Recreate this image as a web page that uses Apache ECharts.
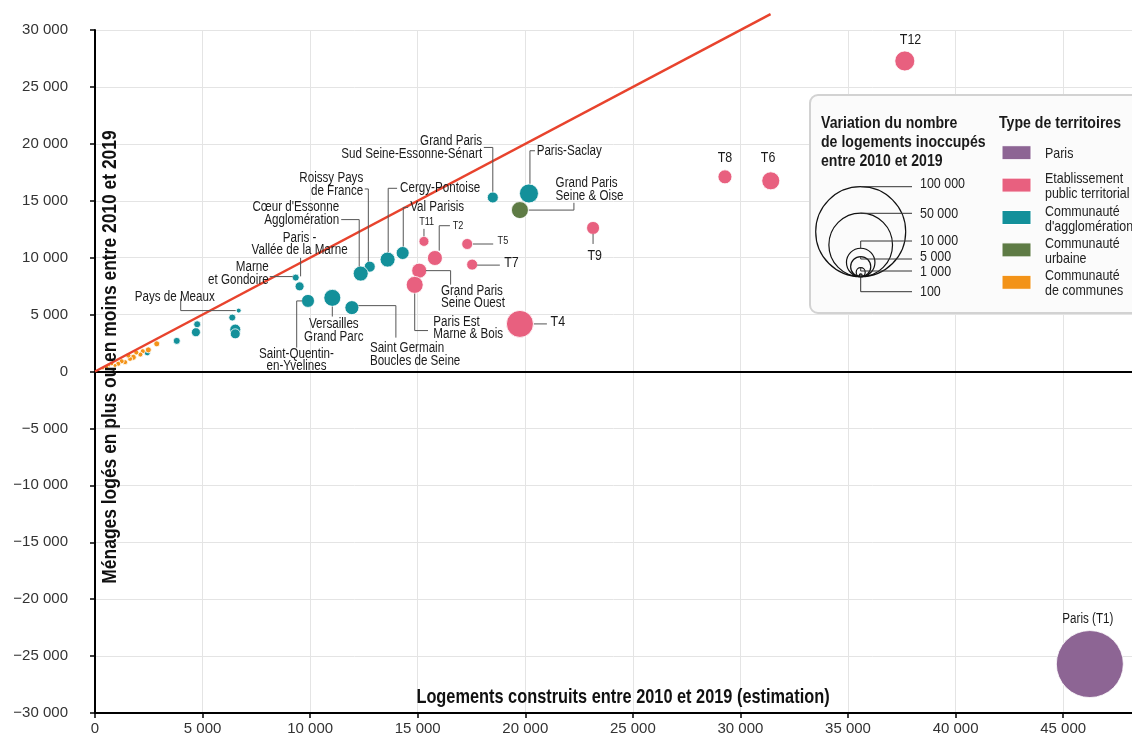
<!DOCTYPE html>
<html lang="fr">
<head>
<meta charset="utf-8">
<title>Logements construits et ménages logés 2010-2019</title>
<script src="https://cdn.jsdelivr.net/npm/echarts@6/dist/echarts.min.js"></script>
<style>
  html, body { margin: 0; padding: 0; background: #fff; }
  #chart { width: 1132px; height: 740px; }
</style>
</head>
<body>
<div id="chart"></div>
<script>
// chaque point : [logements construits, ménages logés en plus/moins, variation logements inoccupés, nom]
var paris = [
  [46240, -25700, 55400, 'Paris (T1)']
];
var ept = [
  [37640, 27280, 4940, 'T12'],
  [29280, 17100, 2420, 'T8'],
  [31410, 16750, 4000, 'T6'],
  [23150, 12610, 2090, 'T9'],
  [19750, 4180, 9000, 'T4'],
  [17300, 11200, 1490, 'T5'],
  [17530, 9390, 1490, 'T7'],
  [15800, 9970, 2780, 'T2'],
  [15290, 11430, 1230, 'T11'],
  [15070, 8860, 2780, 'Grand Paris Seine Ouest'],
  [14860, 7610, 3570, 'Paris Est Marne & Bois']
];
var agglo = [
  [20170, 15640, 4460, 'Paris-Saclay'],
  [18490, 15290, 1490, 'Grand Paris Sud Seine-Essonne-Sénart'],
  [14300, 10410, 2090, 'Val Parisis'],
  [13600, 9830, 2780, 'Cergy-Pontoise'],
  [12770, 9210, 1490, 'Roissy Pays de France'],
  [12350, 8600, 2780, "Cœur d'Essonne Agglomération"],
  [9510, 7480, 1000, 'Paris - Vallée de la Marne'],
  [9330, 8250, 600, 'Marne et Gondoire'],
  [9900, 6200, 2090, 'Saint-Quentin-en-Yvelines'],
  [11030, 6470, 3570, 'Versailles Grand Parc'],
  [11940, 5610, 2420, 'Saint Germain Boucles de Seine'],
  [6680, 5350, 300, 'Pays de Meaux'],
  [6380, 4740, 600, ''],
  [6520, 3680, 1490, ''],
  [6520, 3310, 1230, ''],
  [4750, 4150, 600, ''],
  [4690, 3450, 1000, ''],
  [3800, 2690, 600, ''],
  [2430, 1640, 440, ''],
  [1550, 1400, 250, '']
];
var urbaine = [
  [19750, 14180, 3570, 'Grand Paris Seine & Oise']
];
var communes = [
  [2870, 2430, 440],
  [2480, 1900, 440],
  [2220, 1780, 310],
  [2110, 1490, 310],
  [1920, 1670, 310],
  [1780, 1250, 440],
  [1630, 1110, 310],
  [1550, 1400, 310],
  [1400, 820, 310],
  [1240, 900, 310],
  [1080, 680, 310],
  [930, 530, 200],
  [780, 680, 200],
  [620, 530, 200],
  [540, 380, 200],
  [370, 260, 110]
];
// droite y = x
var equalLine = [[0, 0], [31400, 31400]];

var typeNames = ['Paris', 'Etablissement\npublic territorial', "Communauté\nd'agglomération", 'Communauté\nurbaine', 'Communauté\nde communes'];
var typeColors = ['#8d6594', '#e8607f', '#13909a', '#5e7b45', '#f39318'];
var sizeLegendValues = [100000, 50000, 10000, 5000, 1000, 100];
var xTitle = 'Logements construits entre 2010 et 2019 (estimation)';
var yTitle = 'Ménages logés en plus ou en moins entre 2010 et 2019';
var sizeTitle = 'Variation du nombre\nde logements inoccupés\nentre 2010 et 2019';
var typeTitle = 'Type de territoires';

var FONT = '"Liberation Sans", Arial, sans-serif';
var NARROW = 0.83; // pas de police étroite installée : on resserre horizontalement
var LEGEND_Z = 40;

// diamètre du cercle : 100 000 logements -> 90 px
function bubbleSize(v) {
  return 90 * Math.sqrt(Math.abs(v) / 100000);
}

function fmt(v) {
  var s = Math.abs(v).toString().replace(/\B(?=(\d{3})+(?!\d))/g, ' ');
  return (v < 0 ? '\u2212' : '') + s;
}

// texte condensé
function narrowText(x, y, text, size, opts) {
  opts = opts || {};
  return {
    type: 'text', x: x, y: y, scaleX: NARROW, rotation: opts.rotation || 0, z: opts.z,
    style: {
      text: text, fontFamily: FONT, fontSize: size, fontWeight: opts.bold ? 'bold' : 'normal',
      fill: opts.fill || '#1a1a1a', align: opts.align || 'left', verticalAlign: 'middle',
      lineHeight: opts.lineHeight
    }
  };
}

// étiquettes : décalages en pixels par rapport au centre du cercle
var labelPlacement = {
  'Pays de Meaux': {text: 'Pays de Meaux', dx: -64, dy: -13, align: 'center', path: [[-3, 0], [-58, 0], [-58, -12]]},
  'Marne et Gondoire': {text: 'Marne\net Gondoire', dx: -27, dy: -4, align: 'right', path: [[-26, -1], [-3, -1]]},
  'Paris - Vallée de la Marne': {text: 'Paris -\nVallée de la Marne', dx: 0, dy: -42, align: 'center', path: [[1, -28.5], [1, -10]]},
  "Cœur d'Essonne Agglomération": {text: "Cœur d'Essonne\nAgglomération", dx: -21.5, dy: -60, align: 'right', path: [[-19.5, -54], [-1.5, -54], [-1.5, -7]]},
  'Roissy Pays de France': {text: 'Roissy Pays\nde France', dx: -6.5, dy: -82, align: 'right', path: [[-5, -77.7], [-1.4, -77.7], [-1.4, -5]]},
  'Cergy-Pontoise': {text: 'Cergy-Pontoise', dx: 12.5, dy: -71.3, align: 'left', path: [[9.5, -71.3], [0.6, -71.3], [0.6, -7.5]]},
  'Val Parisis': {text: 'Val Parisis', dx: 7.5, dy: -45.6, align: 'left', path: [[5.5, -45.6], [0.6, -45.6], [0.6, -6.5]]},
  'Grand Paris Sud Seine-Essonne-Sénart': {text: 'Grand Paris\nSud Seine-Essonne-Sénart', dx: -10.7, dy: -50, align: 'right', path: [[-9, -50], [0, -50], [0, -5.7]]},
  'Paris-Saclay': {text: 'Paris-Saclay', dx: 7.7, dy: -42.7, align: 'left', path: [[6, -42.7], [1, -42.7], [1, -9.7]]},
  'Grand Paris Seine & Oise': {text: 'Grand Paris\nSeine & Oise', dx: 35.7, dy: -20.6, align: 'left', path: [[9, 0], [54, 0], [54, -7.3]]},
  'T11': {text: 'T11', dx: 2.7, dy: -19, align: 'center', size: 11, path: [[0, -12.5], [0, -5]]},
  'T2': {text: 'T2', dx: 17.7, dy: -32.3, align: 'left', size: 11, path: [[15, -32.3], [4.3, -32.3], [4.3, -7.3]]},
  'T5': {text: 'T5', dx: 30.4, dy: -2.6, align: 'left', size: 11, path: [[5.7, 0], [26, 0]]},
  'T7': {text: 'T7', dx: 32, dy: -1.3, align: 'left', size: 15, path: [[5, 0.5], [27.7, 0.5]]},
  'Grand Paris Seine Ouest': {text: 'Grand Paris\nSeine Ouest', dx: 21.7, dy: 26.7, align: 'left', path: [[6.7, 0], [31.4, 0], [31.4, 14]]},
  'Paris Est Marne & Bois': {text: 'Paris Est\nMarne & Bois', dx: 18.6, dy: 43.2, align: 'left', path: [[0, 8.7], [0, 45.7], [13.3, 45.7]]},
  'T4': {text: 'T4', dx: 30.7, dy: -1.6, align: 'left', size: 15, path: [[14, 0], [27, 0]]},
  'T9': {text: 'T9', dx: 1.7, dy: 27.7, align: 'center', size: 15, path: [[0, 6], [0, 16]]},
  'T8': {text: 'T8', dx: 0, dy: -19.3, align: 'center', size: 15},
  'T6': {text: 'T6', dx: -2.7, dy: -23.3, align: 'center', size: 15},
  'T12': {text: 'T12', dx: 5.7, dy: -20.7, align: 'center', size: 15},
  'Paris (T1)': {text: 'Paris (T1)', dx: -2, dy: -45, align: 'center'},
  'Versailles Grand Parc': {text: 'Versailles\nGrand Parc', dx: 1.5, dy: 33, align: 'center', path: [[0, 8.7], [0, 18.7]]},
  'Saint-Quentin-en-Yvelines': {text: 'Saint-Quentin-\nen-Yvelines', dx: -11.5, dy: 59.4, align: 'center', path: [[-6, 0], [-11.3, 0], [-11.3, 46.7]]},
  'Saint Germain Boucles de Seine': {text: 'Saint Germain\nBoucles de Seine', dx: 18, dy: 47.2, align: 'left', path: [[6.5, -2], [44, -2], [44, 30]]}
};

var annotated = [];
[paris, ept, agglo, urbaine].forEach(function (arr) {
  arr.forEach(function (d) {
    var spec = labelPlacement[d[3]];
    if (spec) annotated.push({x: d[0], y: d[1], spec: spec});
  });
});

function renderLabel(params, api) {
  var spec = annotated[api.value(2)].spec;
  var p = api.coord([api.value(0), api.value(1)]);
  var children = [];
  if (spec.path) {
    children.push({
      type: 'polyline',
      shape: {points: spec.path.map(function (o) { return [p[0] + o[0], p[1] + o[1]]; })},
      style: {stroke: '#555', lineWidth: 1, fill: null}
    });
  }
  children.push(narrowText(p[0] + spec.dx, p[1] + spec.dy, spec.text, spec.size || 14,
    {align: spec.align, lineHeight: 12.5}));
  return {type: 'group', children: children};
}

function bubbleSeries(name, data, color, z) {
  return {
    name: name,
    type: 'scatter',
    data: data,
    z: z,
    symbolSize: function (d) { return bubbleSize(d[2]); },
    itemStyle: {color: color, opacity: 1, borderColor: '#fff', borderWidth: 0.8}
  };
}

// légende dessinée à la main, au-dessus de la grille
var legendEls = [];
legendEls.push({
  type: 'rect', z: LEGEND_Z, shape: {x: 810, y: 95, width: 340, height: 218, r: 8},
  style: {fill: '#fbfbfb', stroke: '#d2d2d2', lineWidth: 2}
});
legendEls.push(narrowText(821, 142, sizeTitle, 17, {bold: true, lineHeight: 19, z: LEGEND_Z + 1}));
var cx = 860.7, base = 276.7, labelX = 920;
var lineY = [186.7, 213.3, 241, 259, 271, 291.7];
var textY = [183.5, 214, 241, 257, 271.5, 291.7];
sizeLegendValues.forEach(function (v, i) {
  var r = bubbleSize(v) / 2;
  legendEls.push({
    type: 'circle', z: LEGEND_Z + 1, shape: {cx: cx, cy: base - r, r: r},
    style: {fill: null, stroke: '#111', lineWidth: 1.2}
  });
  legendEls.push({
    type: 'polyline', z: LEGEND_Z + 1, shape: {points: [[cx, base - 2 * r], [cx, lineY[i]], [912, lineY[i]]]},
    style: {fill: null, stroke: '#333', lineWidth: 1}
  });
  legendEls.push(narrowText(labelX, textY[i], fmt(v), 15, {fill: '#222', z: LEGEND_Z + 1}));
});
legendEls.push(narrowText(999, 123.3, typeTitle, 17, {bold: true, z: LEGEND_Z + 1}));
typeNames.forEach(function (n, i) {
  var cy = 152.7 + i * 32.4;
  legendEls.push({
    type: 'rect', z: LEGEND_Z + 1, shape: {x: 1002, y: cy - 7, width: 29, height: 14},
    style: {fill: typeColors[i], stroke: '#fff', lineWidth: 1}
  });
  legendEls.push(narrowText(1045, cy + 1.5, n, 15, {fill: '#222', lineHeight: 15, z: LEGEND_Z + 1}));
});

var chart = echarts.init(document.getElementById('chart'));
chart.setOption({
  backgroundColor: '#fff',
  animation: false,
  grid: {left: 95, top: 30, right: 0, bottom: 27, containLabel: false},
  xAxis: {
    type: 'value', min: 0, max: 48200, interval: 5000,
    axisLine: {onZero: false, lineStyle: {color: '#000', width: 2}},
    axisTick: {length: 5, lineStyle: {color: '#000', width: 1.5}},
    axisLabel: {
      margin: 8, color: '#333', fontFamily: FONT, fontSize: 15, showMaxLabel: false,
      formatter: function (v) { return v % 5000 === 0 ? fmt(v) : ''; }
    },
    splitLine: {lineStyle: {color: '#e4e4e4', width: 1}}
  },
  yAxis: {
    type: 'value', min: -30000, max: 30000, interval: 5000,
    axisLine: {onZero: false, lineStyle: {color: '#000', width: 2}},
    axisTick: {length: 5, lineStyle: {color: '#000', width: 1.5}},
    axisLabel: {margin: 27, color: '#333', fontFamily: FONT, fontSize: 15, formatter: fmt},
    splitLine: {lineStyle: {color: '#e4e4e4', width: 1}}
  },
  graphic: [
    narrowText(110, 357, yTitle, 21, {bold: true, fill: '#111', align: 'center', rotation: Math.PI / 2, z: 50}),
    narrowText(623, 698, xTitle, 19.7, {bold: true, fill: '#111', align: 'center', z: 50}),
    {type: 'group', z: LEGEND_Z, children: legendEls}
  ],
  series: [
    Object.assign(bubbleSeries('Communauté d\'agglomération', agglo, typeColors[2], 2), {
      markLine: {
        silent: true, symbol: 'none', label: {show: false},
        lineStyle: {color: '#000', width: 2, type: 'solid'},
        data: [{yAxis: 0}]
      }
    }),
    bubbleSeries('Communauté urbaine', urbaine, typeColors[3], 2),
    bubbleSeries('Etablissement public territorial', ept, typeColors[1], 3),
    bubbleSeries('Paris', paris, typeColors[0], 3),
    bubbleSeries('Communauté de communes', communes, typeColors[4], 4),
    {
      type: 'line', data: equalLine, showSymbol: false, clip: false, z: 5,
      lineStyle: {color: '#e8432d', width: 2.5}, silent: true
    },
    {
      type: 'custom', renderItem: renderLabel, z: 6, clip: false, silent: true,
      encode: {x: 0, y: 1},
      data: annotated.map(function (a, i) { return [a.x, a.y, i]; })
    }
  ]
});
</script>
</body>
</html>
